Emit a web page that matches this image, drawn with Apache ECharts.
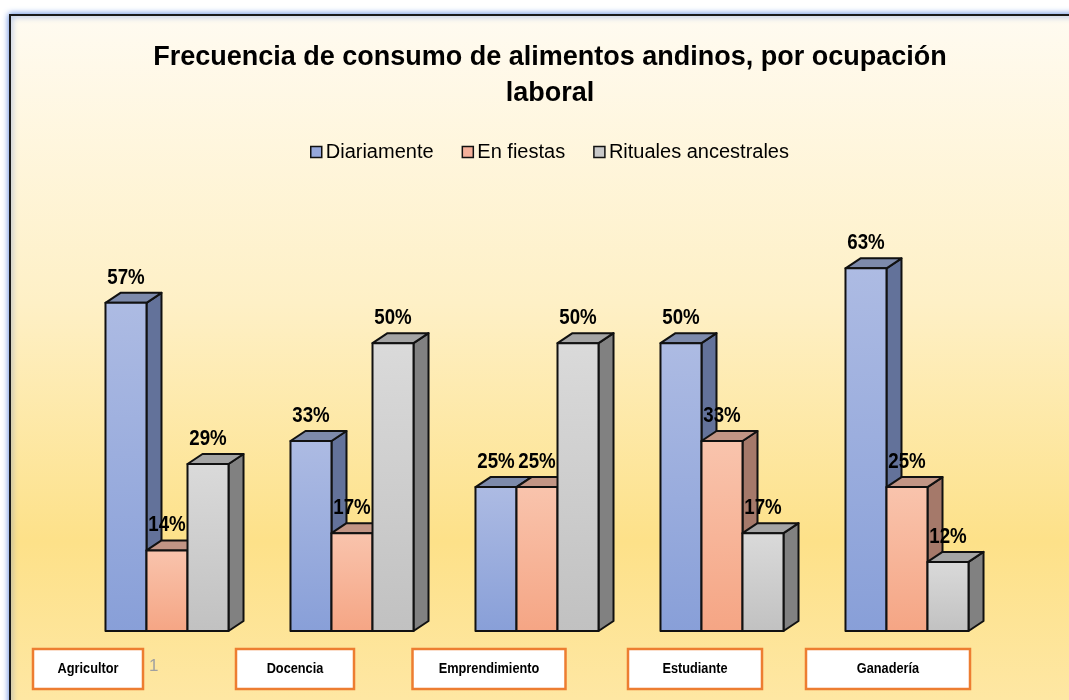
<!DOCTYPE html>
<html>
<head>
<meta charset="utf-8">
<script src="https://cdn.jsdelivr.net/npm/echarts@6/dist/echarts.min.js"></script>
<style>
  html, body { margin: 0; padding: 0; background: #fff; }
  #chart { width: 1069px; height: 700px; }
</style>
</head>
<body>
<div id="chart"></div>
<script>
// datos
const categorias = ["Agricultor", "Docencia", "Emprendimiento", "Estudiante", "Ganadería"];
const diariamente = [57, 33, 25, 50, 63];
const enFiestas = [14, 17, 25, 33, 25];
const rituales = [29, 50, 50, 17, 12];
const nombres = ["Diariamente", "En fiestas", "Rituales ancestrales"];

// cajas de las etiquetas de categoria (desplazamiento respecto al centro y ancho)
const cajas = [
  { dx: -79, w: 110 },
  { dx: -57, w: 118 },
  { dx: -48, w: 153 },
  { dx: -27, w: 134 },
  { dx: -19, w: 164 }
];

const DX = 15, DY = 10;
const GROUP_RATIO = 0.665;
const colores = [
  { f0: "#adbbe3", f1: "#889fd8", side: "#63729a", top: "#7d8aab", legend: "#95a7db" },
  { f0: "#f9c4ad", f1: "#f5a584", side: "#a5796a", top: "#c29585", legend: "#f4b09a" },
  { f0: "#dadada", f1: "#c1c1c1", side: "#818181", top: "#a4a4a4", legend: "#c8c8c8" }
];

function barras(sIdx) {
  return function (params, api) {
    const cat = api.value(0);
    const val = api.value(1);
    const top = api.coord([cat, val]);
    const base = api.coord([cat, 0]);
    const band = api.size([1, 0])[0];
    const bw = band * GROUP_RATIO / 3;
    const x0 = top[0] - bw * 1.5 + sIdx * bw;
    const x1 = x0 + bw;
    const yt = top[1], yb = base[1];
    const c = colores[sIdx];
    const borde = { stroke: "#111", lineWidth: 2, lineJoin: "round" };
    return {
      type: "group",
      children: [
        {
          type: "polygon",
          shape: { points: [[x1, yt], [x1 + DX, yt - DY], [x1 + DX, yb - DY], [x1, yb]] },
          style: Object.assign({ fill: c.side }, borde)
        },
        {
          type: "polygon",
          shape: { points: [[x0, yt], [x0 + DX, yt - DY], [x1 + DX, yt - DY], [x1, yt]] },
          style: Object.assign({ fill: c.top }, borde)
        },
        {
          type: "rect",
          shape: { x: x0, y: yt, width: bw, height: yb - yt },
          style: Object.assign({
            fill: new echarts.graphic.LinearGradient(0, 0, 0, 1, [
              { offset: 0, color: c.f0 },
              { offset: 1, color: c.f1 }
            ])
          }, borde)
        },
        {
          type: "text",
          z2: 100,
          x: (x0 + x1) / 2,
          y: yt - DY - 4,
          scaleX: 0.85,
          style: {
            text: val + "%",
            x: 0,
            y: 0,
            align: "center",
            verticalAlign: "bottom",
            textAlign: "center",
            textVerticalAlign: "bottom",
            fontFamily: "Liberation Sans, Arial",
            fontWeight: "bold",
            fontSize: 22,
            fill: "#000"
          }
        }
      ]
    };
  };
}

function etiquetas(params, api) {
  const idx = api.value(0);
  const p = api.coord([idx, 0]);
  const caja = cajas[idx];
  const cx = p[0] + caja.dx;
  const y = p[1] + 18;
  const h = 40;
  return {
    type: "group",
    children: [
      {
        type: "rect",
        shape: { x: cx - caja.w / 2, y: y, width: caja.w, height: h },
        style: { fill: "#fff", stroke: "#ed7d31", lineWidth: 2.5 }
      },
      {
        type: "text",
        x: cx,
        y: y + h / 2,
        scaleX: 0.85,
        style: {
          text: categorias[idx],
          x: 0,
          y: 0,
          align: "center",
          verticalAlign: "middle",
          textAlign: "center",
          textVerticalAlign: "middle",
          fontFamily: "Liberation Sans, Arial",
          fontWeight: "bold",
          fontSize: 15,
          fill: "#000"
        }
      }
    ]
  };
}

const chart = echarts.init(document.getElementById("chart"));

const series = [diariamente, enFiestas, rituales].map(function (vals, s) {
  return {
    name: nombres[s],
    type: "custom",
    renderItem: barras(s),
    clip: false,
    itemStyle: { color: colores[s].legend },
    encode: { x: 0, y: 1 },
    data: vals.map(function (v, i) { return [i, v]; })
  };
});

series.push({
  name: "categorias",
  type: "custom",
  renderItem: etiquetas,
  clip: false,
  silent: true,
  encode: { x: 0, y: 1 },
  data: categorias.map(function (c, i) { return [i, 0]; })
});

const option = {
  backgroundColor: "#fff",
  animation: false,
  graphic: [
    {
      type: "rect",
      z: 0,
      shape: { x: 10, y: 15, width: 1100, height: 720 },
      style: {
        fill: new echarts.graphic.LinearGradient(0, 0, 0, 1, [
          { offset: 0, color: "#fffbf1" },
          { offset: 0.4, color: "#fef0c6" },
          { offset: 0.73, color: "#fde189" },
          { offset: 0.95, color: "#fee7a3" },
          { offset: 1, color: "#fee8a6" }
        ]),
        stroke: "#1a1a1a",
        lineWidth: 2,
        shadowColor: "rgba(70,120,220,0.9)",
        shadowBlur: 6
      }
    },
    {
      type: "text",
      z: 5,
      left: 149,
      top: 658,
      style: { text: "1", fontSize: 17, fill: "#a0a0a0", fontFamily: "Liberation Sans" }
    }
  ],
  title: {
    text: "Frecuencia de consumo de alimentos andinos, por ocupación\nlaboral",
    left: 545,
    textAlign: "center",
    top: 35,
    textStyle: {
      fontFamily: "Liberation Sans, Arial",
      fontWeight: "bold",
      fontSize: 27,
      lineHeight: 36,
      color: "#000"
    }
  },
  legend: {
    data: nombres.map(function (n, s) {
      return {
        name: n,
        icon: "rect",
        itemStyle: { color: colores[s].legend, borderColor: "#111", borderWidth: 1.5 }
      };
    }),
    top: 137,
    left: 305,
    itemWidth: 11,
    itemHeight: 11,
    itemGap: 28,
    textStyle: { fontFamily: "Liberation Sans, Arial", fontSize: 20, color: "#000", padding: [0, 0, 0, -1] }
  },
  grid: { left: 74.5, right: 69.5, top: 228, bottom: 69 },
  xAxis: {
    type: "category",
    data: categorias,
    axisLine: { show: false },
    axisTick: { show: false },
    axisLabel: { show: false },
    splitLine: { show: false }
  },
  yAxis: {
    type: "value",
    min: 0,
    max: 70,
    show: false,
    splitLine: { show: false }
  },
  series: series
};

chart.setOption(option);
</script>
</body>
</html>
